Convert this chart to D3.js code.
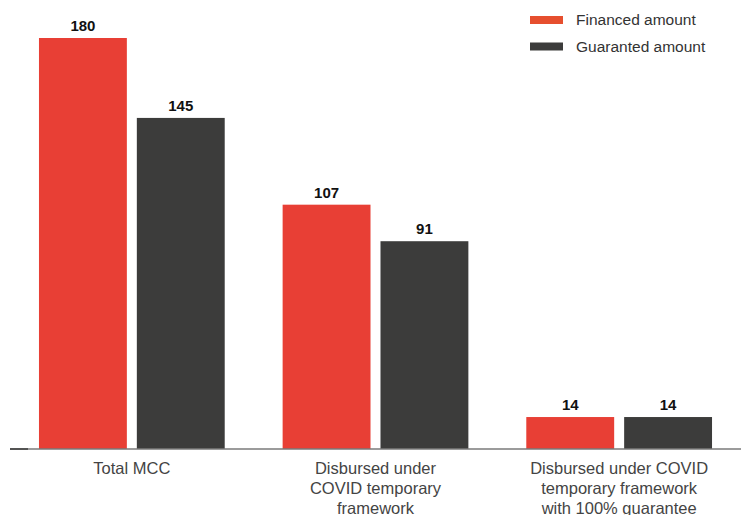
<!DOCTYPE html>
<html>
<head>
<meta charset="utf-8">
<script src="https://cdn.jsdelivr.net/npm/d3@7"></script>
<style>
  body { margin: 0; background: #fff; }
  text { font-family: "Liberation Sans", Arial, Helvetica, sans-serif; }
</style>
</head>
<body>
<svg id="chart" width="744" height="515"></svg>
<script>
// chart data
var categories = [
  ["Total MCC"],
  ["Disbursed under", "COVID temporary", "framework"],
  ["Disbursed under COVID", "temporary framework", "with 100% guarantee"]
];
var seriesNames = ["Financed amount", "Guaranted amount"];
var financed = [180, 107, 14];
var guaranteed = [145, 91, 14];
var colors = ["#e83f35", "#3c3c3b"];

var svg = d3.select("#chart");
var baseY = 449;

var x0 = d3.scaleBand()
  .domain(d3.range(categories.length))
  .range([10, 741])
  .paddingInner(0.2377)
  .paddingOuter(0.1189);

var x1 = d3.scaleBand()
  .domain(d3.range(seriesNames.length))
  .range([0, x0.bandwidth()])
  .paddingInner(0.102);

var y = d3.scaleLinear()
  .domain([0, 180])
  .range([baseY, 38]);

var rows = categories.map(function(c, i) {
  return [financed[i], guaranteed[i]];
});

var groups = svg.selectAll("g.grp")
  .data(rows)
  .enter().append("g")
  .attr("class", "grp")
  .attr("transform", function(d, i) { return "translate(" + x0(i) + ",0)"; });

groups.selectAll("rect")
  .data(function(d) { return d; })
  .enter().append("rect")
  .attr("x", function(d, j) { return x1(j); })
  .attr("y", function(d) { return y(d); })
  .attr("width", x1.bandwidth())
  .attr("height", function(d) { return baseY - y(d); })
  .attr("fill", function(d, j) { return colors[j]; });

groups.selectAll("text.val")
  .data(function(d) { return d; })
  .enter().append("text")
  .attr("class", "val")
  .attr("x", function(d, j) { return x1(j) + x1.bandwidth() / 2; })
  .attr("y", function(d) { return y(d) - 7; })
  .attr("text-anchor", "middle")
  .attr("font-size", 15)
  .attr("font-weight", "bold")
  .attr("fill", "#111")
  .text(function(d) { return d; });

// baseline
var xAxis = svg.append("g").attr("transform", "translate(0," + baseY + ")");
xAxis.append("line")
  .attr("x1", x0.range()[0]).attr("x2", x0.range()[1])
  .attr("stroke", "#7a7a7a").attr("stroke-width", 1.5);
xAxis.append("line")
  .attr("x1", x0.range()[0]).attr("x2", x0.range()[0] + 18)
  .attr("stroke", "#3c3c3b").attr("stroke-width", 1.5);

// category labels (last line runs off the bottom edge, as in the original)
var labels = svg.selectAll("text.cat")
  .data(categories)
  .enter().append("text")
  .attr("class", "cat")
  .attr("x", function(d, i) { return x0(i) + x0.bandwidth() / 2; })
  .attr("y", 474)
  .attr("text-anchor", "middle")
  .attr("font-size", 16.5)
  .attr("fill", "#444");

labels.selectAll("tspan")
  .data(function(d) { return d; })
  .enter().append("tspan")
  .attr("x", function() { return d3.select(this.parentNode).attr("x"); })
  .attr("dy", function(d, k) { return k === 0 ? 0 : 20; })
  .text(function(d) { return d; });

// legend
var legend = svg.selectAll("g.leg")
  .data(seriesNames)
  .enter().append("g")
  .attr("class", "leg")
  .attr("transform", function(d, i) { return "translate(530," + (16 + i * 26.5) + ")"; });

legend.append("rect")
  .attr("width", 33).attr("height", 8)
  .attr("fill", function(d, i) { return i === 0 ? "#e64f2e" : colors[1]; });

legend.append("text")
  .attr("x", 46).attr("y", 4)
  .attr("dy", "0.35em")
  .attr("font-size", 15.5)
  .attr("fill", "#333")
  .text(function(d) { return d; });
</script>
</body>
</html>
